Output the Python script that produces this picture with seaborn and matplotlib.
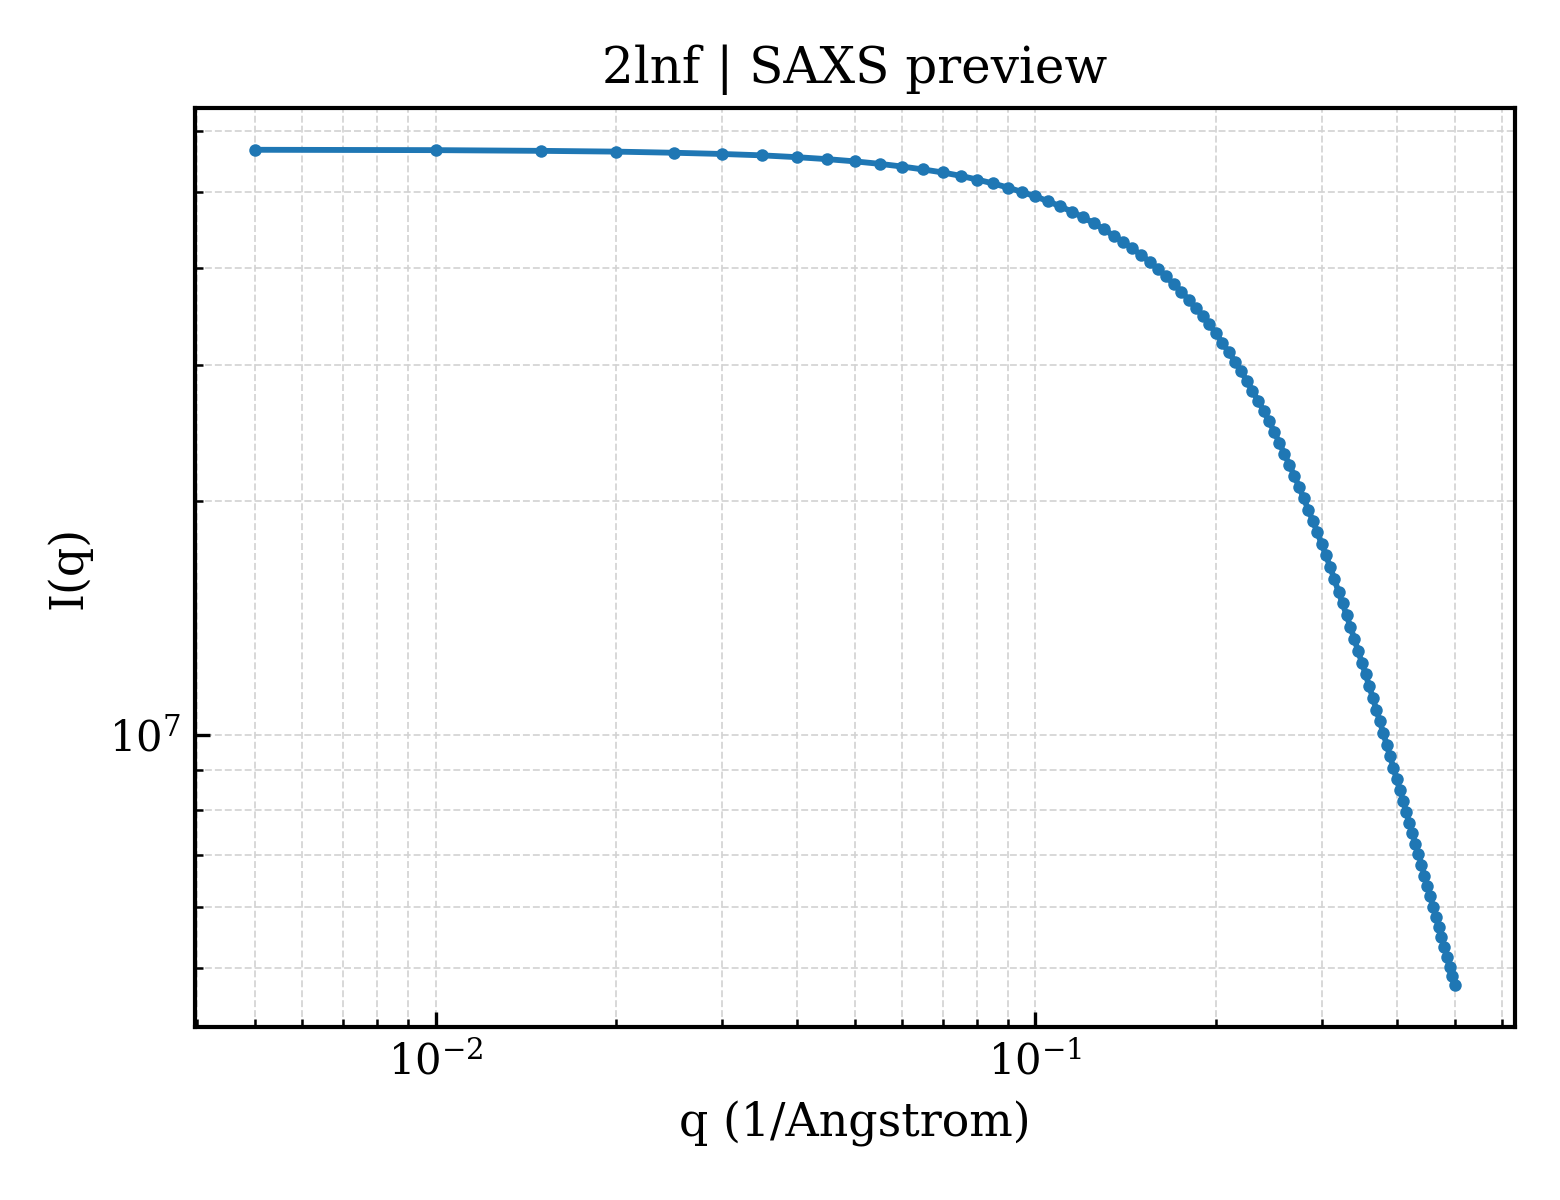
import numpy as np
import pandas as pd
import matplotlib
matplotlib.use("Agg")
import matplotlib.pyplot as plt
import seaborn as sns

# q values (1/Angstrom)
q = [0.005, 0.010, 0.015, 0.020, 0.025, 0.030, 0.035, 0.040, 0.045, 0.050,
     0.055, 0.060, 0.065, 0.070, 0.075, 0.080, 0.085, 0.090, 0.095, 0.100,
     0.105, 0.110, 0.115, 0.120, 0.125, 0.130, 0.135, 0.140, 0.145, 0.150,
     0.155, 0.160, 0.165, 0.170, 0.175, 0.180, 0.185, 0.190, 0.195, 0.200,
     0.205, 0.210, 0.215, 0.220, 0.225, 0.230, 0.235, 0.240, 0.245, 0.250,
     0.255, 0.260, 0.265, 0.270, 0.275, 0.280, 0.285, 0.290, 0.295, 0.300,
     0.305, 0.310, 0.315, 0.320, 0.325, 0.330, 0.335, 0.340, 0.345, 0.350,
     0.355, 0.360, 0.365, 0.370, 0.375, 0.380, 0.385, 0.390, 0.395, 0.400,
     0.405, 0.410, 0.415, 0.420, 0.425, 0.430, 0.435, 0.440, 0.445, 0.450,
     0.455, 0.460, 0.465, 0.470, 0.475, 0.480, 0.485, 0.490, 0.495, 0.500]

# I(q) in units of 1e6
intensity_1e6 = [56.75, 56.69, 56.57, 56.44, 56.25, 56.05, 55.82, 55.52, 55.19, 54.83,
                 54.43, 53.99, 53.53, 53.06, 52.53, 51.94, 51.35, 50.72, 50.06, 49.42,
                 48.70, 47.98, 47.22, 46.44, 45.66, 44.82, 43.97, 43.20, 42.36, 41.52,
                 40.71, 39.84, 38.98, 38.10, 37.24, 36.37, 35.48, 34.68, 33.79, 32.90,
                 31.98, 31.11, 30.26, 29.43, 28.57, 27.76, 26.95, 26.16, 25.37, 24.58,
                 23.77, 23.01, 22.27, 21.57, 20.88, 20.17, 19.49, 18.86, 18.24, 17.60,
                 17.02, 16.44, 15.85, 15.29, 14.76, 14.27, 13.76, 13.29, 12.82, 12.38,
                 11.97, 11.55, 11.16, 10.77, 10.40, 10.05, 9.70, 9.38, 9.07, 8.77,
                 8.48, 8.22, 7.95, 7.70, 7.46, 7.23, 7.02, 6.80, 6.58, 6.38,
                 6.19, 6.00, 5.82, 5.65, 5.48, 5.33, 5.17, 5.02, 4.88, 4.75]

title = "2lnf | SAXS preview"
xlabel = "q (1/Angstrom)"
ylabel = "I(q)"

df = pd.DataFrame({"q": q, "I": np.array(intensity_1e6) * 1e6})

sns.set_theme(style="ticks")
plt.rcParams["font.family"] = ["DejaVu Serif"]
plt.rcParams["mathtext.fontset"] = "dejavuserif"
plt.rcParams["text.color"] = "black"
plt.rcParams["axes.labelcolor"] = "black"

fig, ax = plt.subplots(figsize=(5.2, 4.0), dpi=300)
fig.subplots_adjust(left=0.125, right=0.971, top=0.91, bottom=0.144)

sns.lineplot(data=df, x="q", y="I", ax=ax, color="#1f77b4", linewidth=1.4,
             marker="o", markersize=3.0, markeredgewidth=0)
ax.set_xscale("log")
ax.set_yscale("log")

ax.set_title(title, fontsize=12, color="black")
ax.set_xlabel(xlabel, fontsize=11, color="black")
ax.set_ylabel(ylabel, fontsize=11, color="black")

ax.grid(True, which="both", linestyle="--", linewidth=0.45, color="#d3d3d3", alpha=0.9)
ax.tick_params(which="both", direction="in", top=False, right=False, labelsize=10,
               colors="black", labelcolor="black")
ax.tick_params(which="major", length=3.5, width=0.8)
ax.tick_params(which="minor", length=2, width=0.6)
for s in ax.spines.values():
    s.set_linewidth(1.0)
    s.set_color("black")

fig.savefig("out.png", dpi=300)
